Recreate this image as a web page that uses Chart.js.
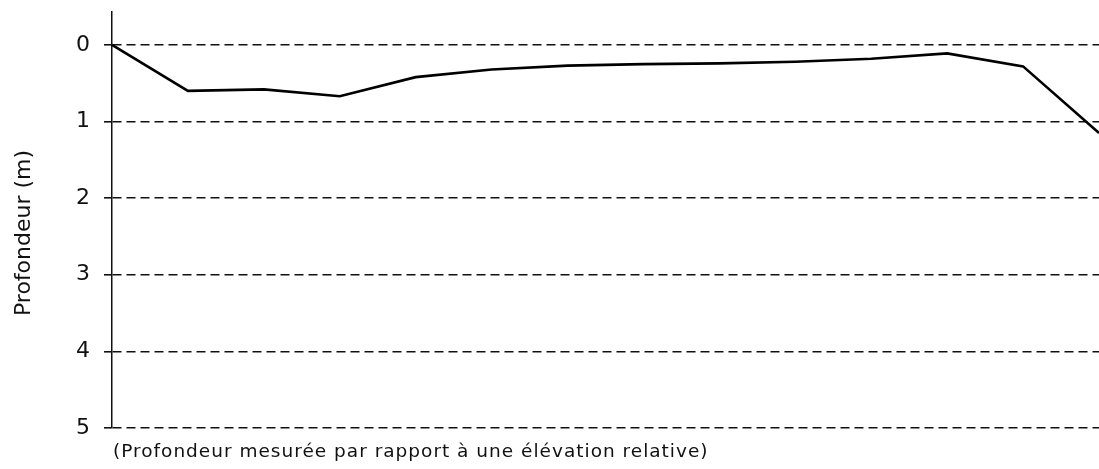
<!DOCTYPE html>
<html>
<head>
<meta charset="utf-8">
<script src="https://cdn.jsdelivr.net/npm/chart.js@4.4.0/dist/chart.umd.min.js"></script>
<style>
  html, body { margin: 0; padding: 0; background: #fff; }
  #wrap { width: 1099px; height: 469px; }
</style>
</head>
<body>
<div id="wrap"><canvas id="profChart" width="1099" height="469"></canvas></div>
<script>
// stations along the profile (equally spaced)
const stations = ['0', '1', '2', '3', '4', '5', '6', '7', '8', '9', '10', '11', '12', '13'];
// depth in metres
const depths = [0, 0.60, 0.58, 0.67, 0.42, 0.32, 0.27, 0.25, 0.24, 0.22, 0.18, 0.11, 0.28, 1.15];
const depthTicks = [0, 1, 2, 3, 4, 5];

const yTitle = 'Profondeur (m)';
const caption = '(Profondeur mesurée par rapport à une élévation relative)';

const textPlugin = {
  id: 'textPlugin',
  afterDraw(chart) {
    const ctx = chart.ctx;
    const area = chart.chartArea;
    ctx.save();
    ctx.fillStyle = '#111';
    ctx.font = '18.5px "DejaVu Sans"';
    ctx.letterSpacing = '1px';
    ctx.textAlign = 'left';
    ctx.textBaseline = 'alphabetic';
    ctx.fillText(caption, area.left + 1, 457);
    ctx.letterSpacing = '0px';

    ctx.translate(24, 233);
    ctx.rotate(-Math.PI / 2);
    ctx.font = '22px "DejaVu Sans"';
    ctx.textAlign = 'center';
    ctx.textBaseline = 'middle';
    ctx.fillText(yTitle, 0, 0);
    ctx.restore();
  }
};

const ctx = document.getElementById('profChart').getContext('2d');
new Chart(ctx, {
  type: 'line',
  data: {
    labels: stations,
    datasets: [{
      data: depths,
      borderColor: '#000',
      borderWidth: 2.6,
      pointRadius: 0,
      tension: 0,
      fill: false
    }]
  },
  options: {
    responsive: false,
    animation: false,
    clip: false,
    layout: { padding: { top: 12, right: 0, bottom: 41, left: 0 } },
    plugins: {
      legend: { display: false },
      tooltip: { enabled: false }
    },
    scales: {
      x: { display: false, offset: false },
      y: {
        reverse: true,
        min: -0.43,
        max: 5,
        afterBuildTicks(scale) {
          scale.ticks = depthTicks.map(v => ({ value: v }));
        },
        afterFit(scale) {
          scale.width = 112;
          scale.paddingTop = 0;
          scale.paddingBottom = 0;
        },
        ticks: {
          color: '#111',
          padding: 14,
          font: { family: 'DejaVu Sans', size: 22 }
        },
        grid: {
          color: '#111',
          lineWidth: 1.6,
          tickLength: 8
        },
        border: {
          display: true,
          color: '#111',
          width: 1.5,
          dash: [9, 5]
        }
      }
    }
  },
  plugins: [textPlugin]
});
</script>
</body>
</html>
